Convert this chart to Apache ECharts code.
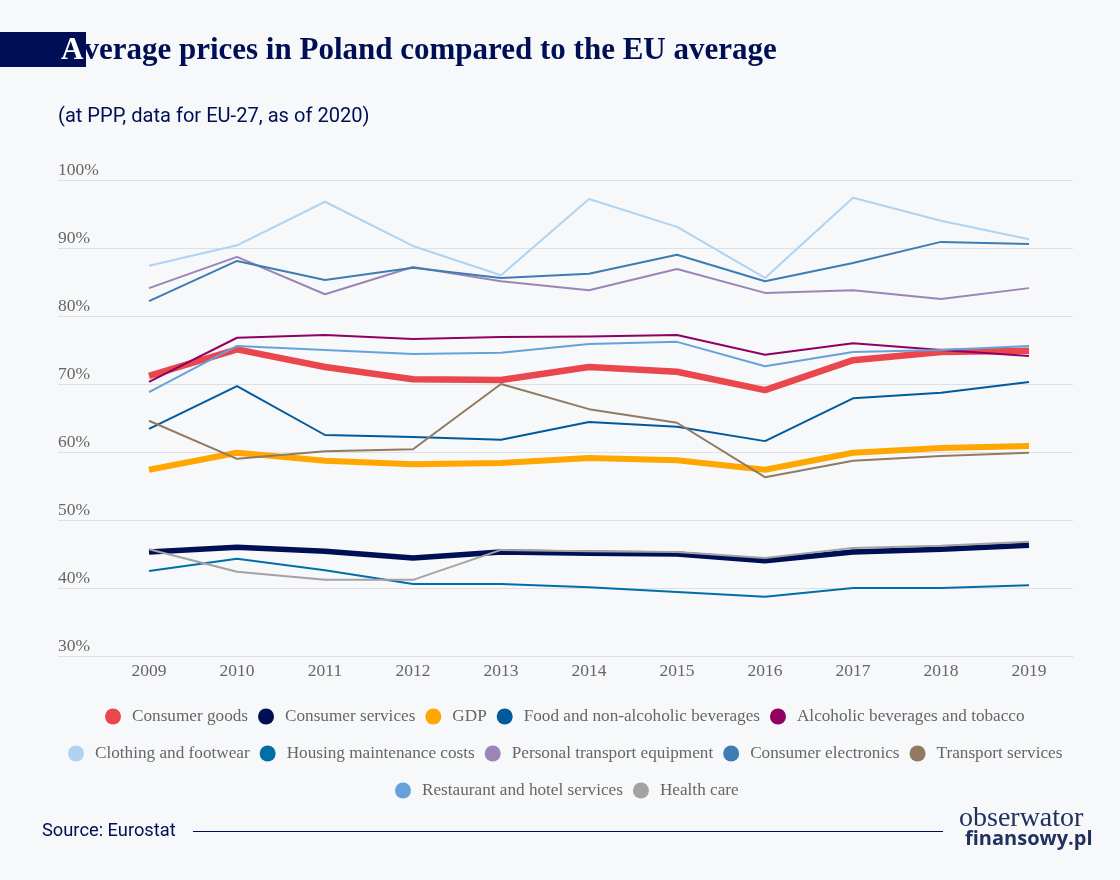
<!DOCTYPE html>
<html>
<head>
<meta charset="utf-8">
<title>Average prices in Poland</title>
<script src="https://cdn.jsdelivr.net/npm/echarts@6/dist/echarts.min.js"></script>
<style>
html, body { margin: 0; padding: 0; background: #f7f8fa; }
#chart { width: 1120px; height: 880px; }
</style>
</head>
<body>
<div id="chart"></div>
<script>
var years = ['2009', '2010', '2011', '2012', '2013', '2014', '2015', '2016', '2017', '2018', '2019'];

var consumerGoods = [71.2, 75.1, 72.5, 70.7, 70.6, 72.5, 71.8, 69.1, 73.5, 74.7, 74.9];
var consumerServices = [45.3, 46.0, 45.4, 44.4, 45.3, 45.1, 45.0, 44.0, 45.3, 45.7, 46.3];
var gdp = [57.4, 59.9, 58.7, 58.2, 58.4, 59.1, 58.8, 57.4, 59.9, 60.6, 60.9];
var food = [63.4, 69.7, 62.5, 62.2, 61.8, 64.4, 63.7, 61.6, 67.9, 68.7, 70.3];
var alcohol = [70.3, 76.8, 77.2, 76.6, 76.9, 77.0, 77.2, 74.3, 76.0, 75.0, 74.1];
var clothing = [87.4, 90.4, 96.8, 90.3, 86.0, 97.2, 93.1, 85.6, 97.4, 94.0, 91.3];
var housing = [42.5, 44.3, 42.6, 40.6, 40.6, 40.1, 39.4, 38.7, 40.0, 40.0, 40.4];
var personalTransport = [84.1, 88.7, 83.2, 87.2, 85.1, 83.8, 86.9, 83.4, 83.8, 82.5, 84.1];
var electronics = [82.2, 88.1, 85.3, 87.1, 85.6, 86.2, 89.0, 85.1, 87.8, 90.9, 90.6];
var transportServices = [64.6, 59.0, 60.1, 60.4, 70.0, 66.3, 64.3, 56.3, 58.7, 59.4, 59.9];
var restaurants = [68.8, 75.6, 75.0, 74.4, 74.6, 75.9, 76.2, 72.6, 74.7, 75.0, 75.6];
var health = [45.7, 42.4, 41.2, 41.2, 45.6, 45.4, 45.3, 44.4, 45.9, 46.2, 46.8];

var navy = '#000f55';
var gridColor = '#dfe0e4';
var labelColor = '#666666';

function makeLine(name, data, color, width) {
    return {
        name: name,
        type: 'line',
        data: data,
        symbol: 'none',
        itemStyle: { color: color },
        lineStyle: { color: color, width: width, cap: 'butt', join: 'round' }
    };
}

function makeLegend(left, top, names) {
    return {
        left: left,
        top: top,
        icon: 'circle',
        itemWidth: 16,
        itemHeight: 16,
        itemGap: 10,
        padding: 0,
        selectedMode: false,
        textStyle: {
            fontFamily: 'Liberation Serif',
            fontSize: 17.2,
            color: labelColor,
            padding: [0, 0, 0, 6]
        },
        data: names
    };
}

var myChart = echarts.init(document.getElementById('chart'));

var option = {
    backgroundColor: '#f7f8fa',
    animation: false,
    title: [
        {
            text: '{first|A}verage prices in Poland compared to the EU average',
            left: 61,
            top: 35,
            padding: 0,
            textStyle: {
                fontFamily: 'Liberation Serif',
                fontWeight: 'bold',
                fontSize: 31,
                color: navy,
                rich: {
                    first: {
                        fontFamily: 'Liberation Serif',
                        fontWeight: 'bold',
                        fontSize: 31,
                        color: '#ffffff'
                    }
                }
            }
        },
        {
            text: '(at PPP, data for EU-27, as of 2020)',
            left: 58,
            top: 107,
            padding: 0,
            textStyle: {
                fontFamily: 'Roboto',
                fontWeight: 'normal',
                fontSize: 20.1,
                color: navy
            }
        },
        {
            text: 'Source: Eurostat',
            left: 42,
            top: 822,
            padding: 0,
            textStyle: {
                fontFamily: 'Roboto',
                fontWeight: 'normal',
                fontSize: 18.3,
                color: navy
            }
        },
        {
            text: 'obserwator',
            left: 959,
            top: 805,
            padding: 0,
            textStyle: {
                fontFamily: 'Liberation Serif',
                fontWeight: 'normal',
                fontSize: 28,
                color: '#20305f'
            }
        },
        {
            text: 'finansowy.pl',
            left: 965,
            top: 829,
            padding: 0,
            textStyle: {
                fontFamily: 'Open Sans',
                fontWeight: 'bold',
                fontSize: 20,
                color: '#20305f'
            }
        }
    ],
    graphic: [
        {
            type: 'rect',
            z: -1,
            shape: { x: 0, y: 32, width: 86, height: 35 },
            style: { fill: navy }
        },
        {
            type: 'line',
            shape: { x1: 193, y1: 831.5, x2: 943, y2: 831.5 },
            style: { stroke: navy, lineWidth: 1 }
        }
    ],
    legend: [
        makeLegend(105, 708, ['Consumer goods', 'Consumer services', 'GDP', 'Food and non-alcoholic beverages', 'Alcoholic beverages and tobacco']),
        makeLegend(68, 745, ['Clothing and footwear', 'Housing maintenance costs', 'Personal transport equipment', 'Consumer electronics', 'Transport services']),
        makeLegend(395, 782, ['Restaurant and hotel services', 'Health care'])
    ],
    grid: {
        left: 105,
        right: 47,
        top: 180,
        bottom: 224,
        containLabel: false
    },
    xAxis: {
        type: 'category',
        data: years,
        axisLine: { lineStyle: { color: gridColor, width: 1 } },
        axisTick: { show: false },
        axisLabel: {
            fontFamily: 'Liberation Serif',
            fontSize: 17.5,
            color: labelColor,
            margin: 6,
            interval: 0
        }
    },
    yAxis: {
        type: 'value',
        min: 30,
        max: 100,
        interval: 10,
        axisLine: { show: false },
        axisTick: { show: true, length: 47, lineStyle: { color: gridColor, width: 1 } },
        splitLine: { lineStyle: { color: gridColor, width: 1 } },
        axisLabel: {
            fontFamily: 'Liberation Serif',
            fontSize: 17.5,
            color: labelColor,
            margin: 47,
            align: 'left',
            verticalAlign: 'bottom',
            lineHeight: 20,
            formatter: '{value}%'
        }
    },
    series: [
        makeLine('Consumer goods', consumerGoods, '#e9464e', 6.5),
        makeLine('Consumer services', consumerServices, navy, 5.5),
        makeLine('GDP', gdp, '#ffa600', 6),
        makeLine('Food and non-alcoholic beverages', food, '#005a9c', 2),
        makeLine('Alcoholic beverages and tobacco', alcohol, '#8f0061', 2),
        makeLine('Clothing and footwear', clothing, '#afd3f0', 2),
        makeLine('Housing maintenance costs', housing, '#006fa6', 2),
        makeLine('Personal transport equipment', personalTransport, '#9b85b6', 2),
        makeLine('Consumer electronics', electronics, '#3f7cb3', 2),
        makeLine('Transport services', transportServices, '#917a62', 2),
        makeLine('Restaurant and hotel services', restaurants, '#66a2d9', 2),
        makeLine('Health care', health, '#a3a3a3', 2)
    ]
};

myChart.setOption(option);
</script>
</body>
</html>
